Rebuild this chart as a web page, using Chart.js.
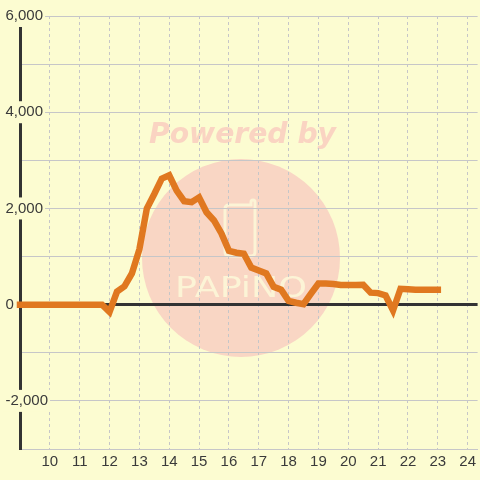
<!DOCTYPE html>
<html>
<head>
<meta charset="utf-8">
<script src="https://cdn.jsdelivr.net/npm/chart.js@4"></script>
<style>
  html, body { margin: 0; padding: 0; background: #fcfcd1; }
  #wrap { width: 480px; height: 480px; }
</style>
</head>
<body>
<div id="wrap"><canvas id="chart"></canvas></div>
<script>
// time of day (hours) and the value at each quarter hour
const hours = [
  9.00, 9.25, 9.50, 9.75, 10.00, 10.25, 10.50, 10.75, 11.00, 11.25, 11.50, 11.75,
  12.00, 12.25, 12.50, 12.75, 13.00, 13.25, 13.50, 13.75, 14.00, 14.25, 14.50, 14.75,
  15.00, 15.25, 15.50, 15.75, 16.00, 16.25, 16.50, 16.75, 17.00, 17.25, 17.50, 17.75,
  18.00, 18.25, 18.50, 18.75, 19.00, 19.25, 19.50, 19.75, 20.00, 20.25, 20.50, 20.75,
  21.00, 21.25, 21.50, 21.75, 22.00, 22.25, 22.50, 22.75, 23.00
];
const values = [
  0, 0, 0, 0, 0, 0, 0, 0, 0, 0, 0, 0,
  -150, 270, 380, 650, 1150, 2000, 2300, 2620, 2690, 2370, 2150, 2130,
  2230, 1920, 1750, 1480, 1120, 1080, 1060, 770, 710, 650, 370, 310,
  80, 40, 10, 230, 440, 440, 430, 410, 410, 410, 415, 250,
  240, 190, -120, 330, 320, 310, 310, 310, 310
];
const xTickValues = [10, 11, 12, 13, 14, 15, 16, 17, 18, 19, 20, 21, 22, 23, 24];
const yLabelValues = [-2000, 0, 2000, 4000, 6000];

const bg = '#fcfcd1';
const gridColor = '#c6c6c8';
const textColor = '#3a3a3a';
const tickFont = { family: '"Liberation Sans", Arial, sans-serif', size: 15 };

// background + faint "Powered by" watermark, drawn under the grid
const watermark = {
  id: 'watermark',
  beforeDraw(chart) {
    const ctx = chart.ctx;
    ctx.save();
    ctx.fillStyle = bg;
    ctx.fillRect(0, 0, chart.width, chart.height);

    ctx.fillStyle = 'rgb(249,214,196)';
    ctx.beginPath();
    ctx.arc(241, 258, 99, 0, Math.PI * 2);
    ctx.fill();

    // "Powered by"
    ctx.font = 'italic bold 28px "DejaVu Sans", sans-serif';
    ctx.fillStyle = 'rgb(250,212,194)';
    ctx.textBaseline = 'alphabetic';
    let w = ctx.measureText('Powered by').width;
    ctx.translate(149, 143);
    ctx.scale(187 / w, 1);
    ctx.fillText('Powered by', 0, 0);
    ctx.setTransform(1, 0, 0, 1, 0, 0);

    // cup outline
    ctx.strokeStyle = 'rgb(252,244,214)';
    ctx.lineWidth = 3;
    ctx.beginPath();
    ctx.moveTo(225, 209);
    ctx.lineTo(225, 252);
    ctx.quadraticCurveTo(225, 256, 229, 256);
    ctx.lineTo(251, 256);
    ctx.quadraticCurveTo(255, 256, 255, 252);
    ctx.lineTo(255, 202);
    ctx.quadraticCurveTo(255, 200, 253, 200);
    ctx.quadraticCurveTo(251, 200, 251, 202);
    ctx.lineTo(251, 205);
    ctx.lineTo(229, 205);
    ctx.quadraticCurveTo(225, 205, 225, 209);
    ctx.stroke();

    // PAPiNO
    ctx.font = '28px "DejaVu Sans", sans-serif';
    ctx.fillStyle = 'rgb(252,244,214)';
    w = ctx.measureText('PAPiNO').width;
    ctx.translate(175, 297);
    ctx.scale(132 / w, 1);
    ctx.fillText('PAPiNO', 0, 0);
    ctx.restore();
  }
};

const points = hours.map((h, i) => ({ x: h, y: values[i] }));

new Chart(document.getElementById('chart'), {
  type: 'line',
  data: {
    datasets: [{
      data: points,
      borderColor: '#e07820',
      borderWidth: 6.5,
      borderCapStyle: 'square',
      pointRadius: 0,
      tension: 0,
      fill: false,
      clip: false
    }]
  },
  options: {
    responsive: true,
    maintainAspectRatio: false,
    animation: false,
    layout: { autoPadding: false, padding: { left: 5, right: 0, top: 16, bottom: 5 } },
    plugins: { legend: { display: false }, tooltip: { enabled: false } },
    scales: {
      x: {
        type: 'linear',
        min: 9,
        max: 24.333,
        afterBuildTicks: scale => { scale.ticks = xTickValues.map(v => ({ value: v })); },
        ticks: {
          autoSkip: false,
          maxRotation: 0,
          padding: 4,
          color: textColor,
          font: tickFont,
          callback: v => String(v)
        },
        grid: { color: gridColor, lineWidth: 1, drawTicks: false },
        border: { color: gridColor, width: 1, dash: [3, 3] }
      },
      y: {
        min: -3000,
        max: 6000,
        afterFit: scale => { scale.width = 15; },
        ticks: {
          stepSize: 1000,
          mirror: true,
          crossAlign: 'near',
          padding: -14.5,
          color: textColor,
          font: tickFont,
          showLabelBackdrop: true,
          backdropColor: bg,
          backdropPadding: 2,
          callback: v => yLabelValues.includes(v) ? v.toLocaleString('en-US') : ''
        },
        grid: {
          drawTicks: false,
          color: c => c.tick.value === 0 ? '#333333' : gridColor,
          lineWidth: c => c.tick.value === 0 ? 3 : 1
        },
        border: { color: '#333333', width: 3 }
      }
    }
  },
  plugins: [watermark]
});
</script>
</body>
</html>
